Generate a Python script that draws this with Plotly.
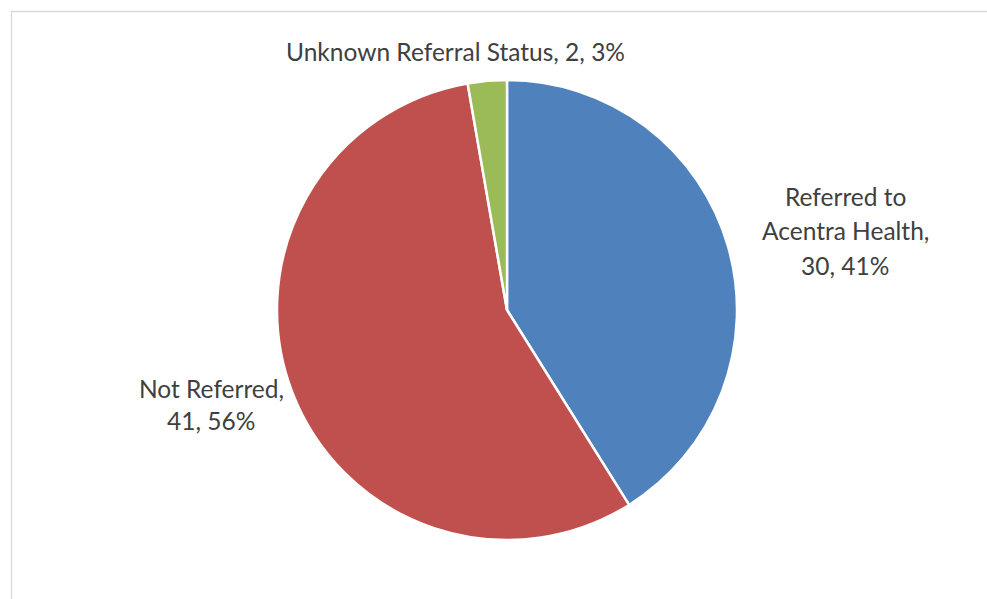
import plotly.graph_objects as go

categories = ["Referred to Acentra Health", "Not Referred", "Unknown Referral Status"]
values = [30, 41, 2]
colors = ["#4F81BD", "#C0504D", "#9BBB59"]
# display lines of each category name (as shown in the chart)
name_lines = [["Referred to", "Acentra Health,"], ["Not Referred,"], ["Unknown Referral Status,"]]

W, H = 987, 599
total = sum(values)
pcts = [round(v / total * 100) for v in values]

cx, cy, r = 507, 310, 230

fig = go.Figure(go.Pie(
    labels=categories, values=values, sort=False, direction="clockwise", rotation=0,
    marker=dict(colors=colors, line=dict(color="white", width=2.5)),
    textinfo="none", hoverinfo="label+value+percent", showlegend=False,
    domain=dict(x=[(cx - r) / W, (cx + r) / W], y=[1 - (cy + r) / H, 1 - (cy - r) / H]),
))

# label layouts: (center x px, first-line center y px, line spacing px)
label_pos = [(845, 196, 34.5), (211, 388, 32), (455, 52, 32)]
font = dict(family="Lato, 'Open Sans', sans-serif", size=24.5, color="#404040")
annotations = []
for i, (lx, ly, sp) in enumerate(label_pos):
    lines = list(name_lines[i])
    tail = f"{values[i]}, {pcts[i]}%"
    if i == 2:
        lines[-1] = lines[-1] + " " + tail
    else:
        lines.append(tail)
    for j, t in enumerate(lines):
        annotations.append(dict(
            x=lx / W, y=1 - (ly + j * sp) / H, xref="paper", yref="paper",
            text=t, showarrow=False, xanchor="center", yanchor="middle", font=font,
        ))

fig.update_layout(
    width=W, height=H, margin=dict(l=0, r=0, t=0, b=0),
    paper_bgcolor="white", plot_bgcolor="white",
    annotations=annotations,
    shapes=[dict(type="rect", xref="paper", yref="paper",
                 x0=11.5 / W, x1=1.2, y0=-0.2, y1=1 - 11.5 / H,
                 line=dict(color="#D9D9D9", width=1.3), layer="below")],
)

fig.write_html("out.html", config={"displayModeBar": False},
               post_script="document.body.style.margin='0';document.body.style.overflow='hidden';")
